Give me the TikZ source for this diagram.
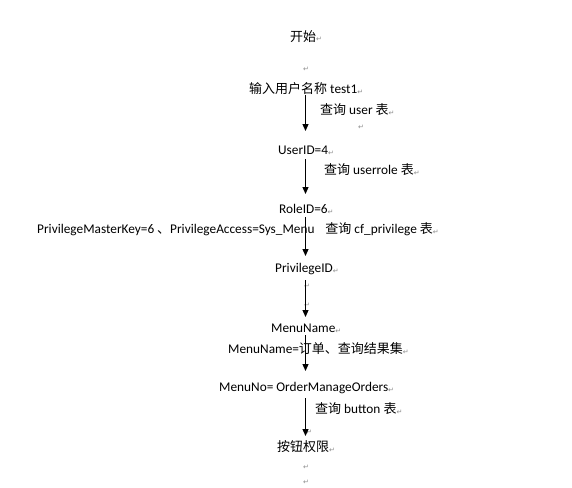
\documentclass[tikz,border=0pt]{standalone}
\usepackage{fontspec}
\usetikzlibrary{arrows.meta}
\setmainfont{Carlito}
\newfontfamily\cjk{Noto Sans CJK SC}
\newfontfamily\dejavu{DejaVu Sans}
\newcommand\zh[1]{{\cjk\fontsize{13}{15}\selectfont #1}}
\newcommand\pmk{{\dejavu\fontsize{7}{7}\selectfont\color{black!45}\raisebox{-0.5pt}{↵}}}
\begin{document}
\begin{tikzpicture}[x=1pt,y=-1pt,
  lbl/.style={anchor=base west,inner sep=0pt,font=\fontsize{13.3}{15}\selectfont},
  mk/.style={anchor=center,inner sep=0pt},
  arr/.style={line width=1.2pt,-{Triangle[width=6pt,length=7pt]}}]
\useasboundingbox[fill=white] (0,0) rectangle (572,487);
\node[lbl] (start) at (290,41.5) {\zh{开始}\pmk};
\node[mk] (m1) at (306,69) {\pmk};
\node[lbl] (input) at (249,93.5) {\zh{输入用户名称} test1\pmk};
\node[lbl] (q1) at (320,114.5) {\zh{查询} user \zh{表}\pmk};
\node[mk] (m2) at (361,127) {\pmk};
\node[lbl] (uid) at (278,154.5) {UserID=4\pmk};
\node[lbl] (q2) at (324,174.5) {\zh{查询} userrole \zh{表}\pmk};
\node[lbl] (rid) at (279,213.5) {RoleID=6\pmk};
\node[lbl] (q3) at (37,233.5) {PrivilegeMasterKey=6\hspace{3pt}\zh{、}PrivilegeAccess=Sys\_Menu\hspace{11pt}\zh{查询} cf\_privilege \zh{表}\pmk};
\node[lbl] (pid) at (275,272.5) {PrivilegeID\pmk};
\node[mk] (m3) at (307,286) {\pmk};
\node[mk] (m4) at (307,305) {\pmk};
\node[lbl] (mn) at (271,332.5) {MenuName\pmk};
\node[lbl] (mn2) at (228,353.5) {MenuName=\zh{订单、查询结果集}\pmk};
\node[lbl] (mno) at (219,391.5) {MenuNo= OrderManageOrders\pmk};
\node[lbl] (q4) at (315,413.5) {\zh{查询} button \zh{表}\pmk};
\node[mk] (m5) at (309,432) {\pmk};
\node[lbl] (btn) at (277,451.5) {\zh{按钮权限}\pmk};
\node[mk] (m6) at (306,467) {\pmk};
\node[mk] (m7) at (306,482.5) {\pmk};
\coordinate (a1s) at (305.5,95);  \coordinate (a1e) at (305.5,131);
\coordinate (a2s) at (305.5,159); \coordinate (a2e) at (305.5,194);
\coordinate (a3s) at (305.5,217); \coordinate (a3e) at (305.5,256);
\coordinate (a4s) at (305.5,280); \coordinate (a4e) at (305.5,317);
\coordinate (a5s) at (305.5,335); \coordinate (a5e) at (305.5,371);
\coordinate (a6s) at (305.5,398); \coordinate (a6e) at (305.5,436);
\draw[arr] (a1s) -- (a1e);
\draw[arr] (a2s) -- (a2e);
\draw[arr] (a3s) -- (a3e);
\draw[arr] (a4s) -- (a4e);
\draw[arr] (a5s) -- (a5e);
\draw[arr] (a6s) -- (a6e);
\end{tikzpicture}
\end{document}
